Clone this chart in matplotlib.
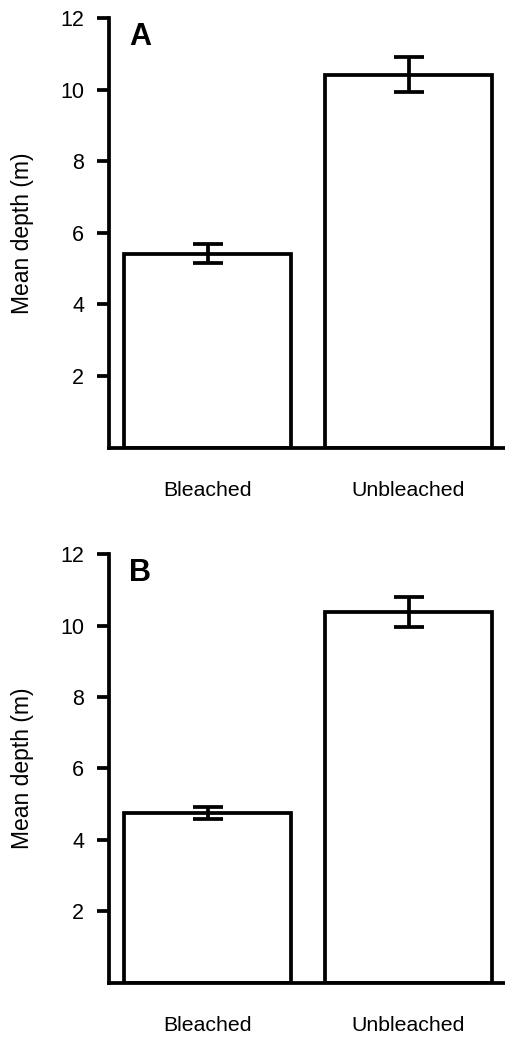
import matplotlib
matplotlib.use('Agg')
import matplotlib.pyplot as plt

plt.rcParams['font.family'] = ['Liberation Sans', 'DejaVu Sans']

categories = ["Bleached", "Unbleached"]
panel_labels = ["A", "B"]
# mean depth (m) and error for each panel
means_a = [5.42, 10.42]
errs_a = [0.26, 0.49]
means_b = [4.76, 10.38]
errs_b = [0.17, 0.42]
yticks = [2, 4, 6, 8, 10, 12]

fig = plt.figure(figsize=(5.06, 10.37), dpi=100)
ax_a = fig.add_axes([0.216, 0.5683, 0.784, 0.4143])
ax_b = fig.add_axes([0.216, 0.0524, 0.784, 0.4131])

lw = 2.7
for ax, label, means, errs in [(ax_a, panel_labels[0], means_a, errs_a),
                               (ax_b, panel_labels[1], means_b, errs_b)]:
    x = list(range(len(categories)))
    ax.bar(x, means, width=0.83, color='white', edgecolor='black',
           linewidth=lw, zorder=2)
    ax.errorbar(x, means, yerr=errs, fmt='none', ecolor='black',
                elinewidth=lw, capsize=10.8, capthick=lw, zorder=3)
    ax.set_xlim(-0.489, 1.485)
    ax.set_ylim(0, 12)
    ax.set_yticks(yticks)
    ax.set_xticks(x)
    ax.set_xticklabels(categories)
    ax.tick_params(axis='y', length=9, width=lw, pad=9, labelsize=15.5)
    ax.tick_params(axis='x', length=0, pad=24, labelsize=15.3)
    for s in ['top', 'right']:
        ax.spines[s].set_visible(False)
    for s in ['left', 'bottom']:
        ax.spines[s].set_linewidth(lw)
        ax.spines[s].set_capstyle('projecting')
    ax.set_ylabel("Mean depth (m)", fontsize=16.5, labelpad=19)
    ax.text(0.05, 0.937, label, transform=ax.transAxes, fontsize=22,
            fontweight='bold', ha='left', va='baseline')

fig.savefig("out.png", dpi=100)
